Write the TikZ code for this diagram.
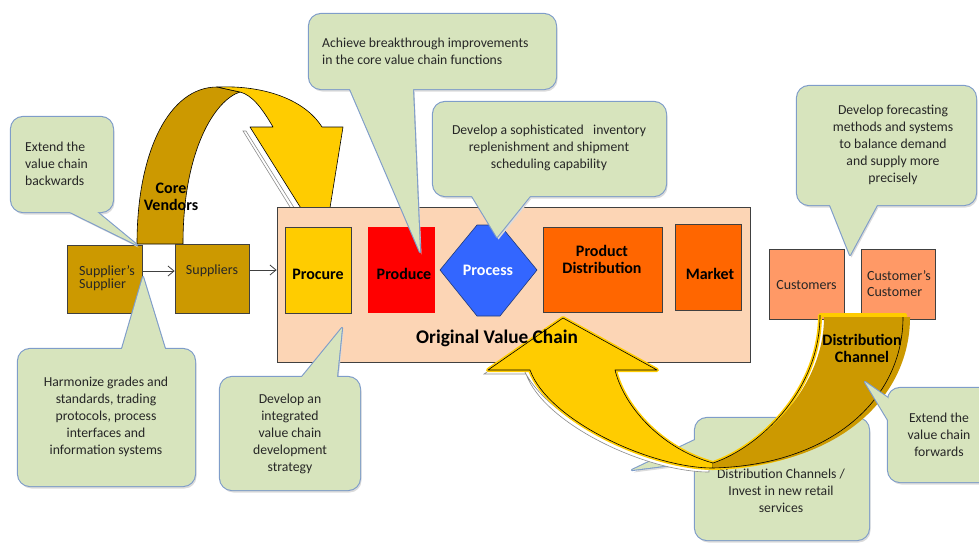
\documentclass[tikz,border=0pt]{standalone}
\usepackage{fontspec}
\setmainfont{Carlito}
\usetikzlibrary{arrows.meta,calc,fit}
\definecolor{cfill}{HTML}{D7E4BD}
\definecolor{cline}{HTML}{7F9DC9}
\definecolor{gold}{HTML}{CC9900}
\definecolor{yel}{HTML}{FFCC00}
\definecolor{peach}{HTML}{FCD5B5}
\definecolor{orng}{HTML}{FF6600}
\definecolor{salmon}{HTML}{FF9966}
\definecolor{blu}{HTML}{3366FF}
\definecolor{txt}{HTML}{262626}
\definecolor{edge}{HTML}{404040}
\definecolor{hexedge}{HTML}{1F3A7A}
\newcommand\bubble[4]{%
  \fill[black!14, rounded corners=12pt, shift={(1.5,2.5)}] #1;
  \fill[black!14, shift={(1.5,2.5)}] #2 -- #4 -- #3 -- cycle;
  \draw[cline, line width=2.2pt, rounded corners=12pt] #1;
  \draw[cline, line width=2.2pt, line join=round] #2 -- #4 -- #3 -- cycle;
  \fill[cfill, rounded corners=12pt] #1;
  \fill[cfill] #2 -- #4 -- #3 -- cycle;
}
\begin{document}
\begin{tikzpicture}[x=1pt,y=-1pt,
  every node/.style={font=\fontsize{13.7}{17}\selectfont, text=txt},
  boxnode/.style={draw=edge, line width=0.8pt, inner sep=0pt},
  lbl/.style={font=\bfseries\fontsize{16}{17}\selectfont, text=black, align=center, inner sep=0pt},
  ctext/.style={align=center, inner sep=0pt},
  ltext/.style={align=left, inner sep=0pt},
  link/.style={draw=edge, line width=0.8pt, -{Straight Barb[length=6pt,width=10pt]}},
  arrowedge/.style={draw=black, line width=0.6pt, line join=round},
]
\useasboundingbox (0,0) rectangle (979,542);

% ---------- Core Vendors arrow (behind the boxes) ----------
\draw[black!45, line width=0.6pt, fill=white] (246,131) -- (320,249) -- (316,249) -- (243,131) -- cycle;
\fill[gold, arrowedge] (137,244) .. controls (137,150) and (170,87) .. (217,87)
  -- (240,92) .. controls (215,100) and (183,150) .. (183,244) -- cycle;
\fill[yel, arrowedge] (217,87) .. controls (265,85) and (305,100) .. (322,127)
  -- (343,127) -- (324,245) -- (250,127) -- (273,127)
  .. controls (262,108) and (252,95) .. (240,92) -- cycle;
\node[lbl] (corevendors) at (171,197) {Core\\Vendors};

% ---------- Original value chain ----------
\node[boxnode, fill=peach, fit={(277,207) (750,362)}] (ovc) {};
\node[boxnode, fill=yel, fit={(285,227) (351,313)}] (procure) {};
\node[lbl] (procuret) at (318,274) {Procure};
\node[inner sep=0pt, fill=red, fit={(368,227) (435,313)}] (produce) {};
\node[lbl] (producet) at (404,274) {Produce};
\filldraw[fill=blu, draw=hexedge, line width=0.6pt] (440,270) -- (477,225) -- (500,225) -- (537,270) -- (500,316) -- (477,316) -- cycle;
\node[lbl, text=white] (process) at (488,270) {Process};
\node[boxnode, fill=orng, fit={(543,227) (662,312)}] (pdist) {};
\node[lbl] (pdistt) at (602,259.5) {Product\\Distribution};
\node[boxnode, fill=orng, fit={(675,224) (741,310)}] (market) {};
\node[lbl] (markett) at (710,274) {Market};

% ---------- suppliers ----------
\node[boxnode, fill=gold, fit={(67,245) (142,313)}] (ss) {};
\node[align=left, inner sep=0pt, font=\fontsize{14}{12.5}\selectfont] (sst) at (107,278) {Supplier’s\\Supplier};
\node[boxnode, fill=gold, fit={(175,244) (249,313)}] (sup) {};
\node[inner sep=0pt, font=\fontsize{14}{17}\selectfont] (supt) at (212,271) {Suppliers};
\draw[link] ($(ss.east)+(0,-8)$) -- ($(sup.west)+(0,-7.5)$);
\draw[link] ($(sup.east)+(0,-8.5)$) -- ($(ovc.west)+(0,-14.5)$);

% ---------- customers ----------
\node[boxnode, fill=salmon, fit={(769,249) (844,319)}] (cust) {};
\node[inner sep=0pt, font=\fontsize{14}{17}\selectfont] (custt) at (806.5,285) {Customers};
\node[boxnode, fill=salmon, fit={(861,249) (935,319)}] (cc) {};
\node[align=left, inner sep=0pt, font=\fontsize{14}{16}\selectfont] (cct) at (899,284) {Customer’s\\Customer};

% ---------- callout behind the Distribution Channel arrow ----------
\bubble{(695,418) rectangle (869,540)}{(695,440)}{(695,462)}{(632,470)}
\node[ctext] (newchan) at (781,491) {Distribution Channels /\\Invest in new retail\\services};

% ---------- Distribution Channel arrow ----------
\draw[black!45, line width=0.6pt, fill=white, shift={(-4,4)}] (713,468) .. controls (650,468) and (548,420) .. (530,370) -- (488,370) -- (500,362) -- (526,362) .. controls (548,415) and (650,462) .. (713,462) -- cycle;
\draw[yel, line width=4pt, line join=round] (820,315) -- (905,315) .. controls (905,400) and (830,465) .. (713,468)
  -- (713,463) .. controls (760,447) and (820,390) .. (820,315) -- cycle;
\draw[yel, line width=4pt, line join=round] (713,468) .. controls (650,468) and (548,420) .. (530,370)
  -- (488,370) -- (563,318) -- (657,370) -- (615,370)
  .. controls (625,410) and (665,450) .. (713,463) -- cycle;
\fill[yel, arrowedge] (713,468) .. controls (650,468) and (548,420) .. (530,370)
  -- (488,370) -- (563,318) -- (657,370) -- (615,370)
  .. controls (625,410) and (665,450) .. (713,463) -- cycle;
\fill[gold] (824,317) -- (910,317) .. controls (910,402) and (832,468) .. (713,468)
  -- (713,463) .. controls (760,447) and (824,390) .. (824,317) -- cycle;
\draw[arrowedge] (820,315) .. controls (820,390) and (760,447) .. (713,463);
\draw[arrowedge] (903,317) .. controls (903,400) and (830,465) .. (713,468);

\node[lbl, font=\bfseries\fontsize{19.3}{20}\selectfont] (ovct) at (497,338) {Original Value Chain};
\node[lbl] (distch) at (862,348.5) {Distribution\\Channel};

% ---------- callouts ----------
\bubble{(11,117) rectangle (113,212)}{(70,212)}{(97,212)}{(137,245)}
\node[ltext, anchor=west] (backw) at (25,164) {Extend the\\value chain\\backwards};

\bubble{(18,349) rectangle (195,486)}{(122,349)}{(165,349)}{(143,277)}
\node[ctext] (harm) at (106,417) {Harmonize grades and\\standards, trading\\protocols, process\\interfaces and\\information systems};

\bubble{(220,377) rectangle (360,490)}{(302,377)}{(337,377)}{(342,328)}
\node[ctext] (integ) at (290,433.5) {Develop an\\integrated\\value chain\\development\\strategy};

\bubble{(309,14) rectangle (556,89)}{(350,89)}{(413,89)}{(420,252)}
\node[ltext, anchor=west] (achieve) at (322,51.5) {Achieve breakthrough improvements\\in the core value chain functions};

\bubble{(433,102) rectangle (666,196)}{(472,196)}{(530,196)}{(497,237)}
\node[ctext] (sophis) at (549,148) {Develop a sophisticated \ \ inventory\\replenishment and shipment\\scheduling capability};

\bubble{(797,86) rectangle (976,205)}{(830,205)}{(877,205)}{(850,255)}
\node[ctext] (forecast) at (893,145) {Develop forecasting\\methods and systems\\to balance demand\\and supply more\\precisely};

\bubble{(888,388) rectangle (1000,482)}{(888,398)}{(888,420)}{(865,382)}
\node[ctext] (forw) at (939,435) {Extend the\\value chain\\forwards};
\end{tikzpicture}
\end{document}
